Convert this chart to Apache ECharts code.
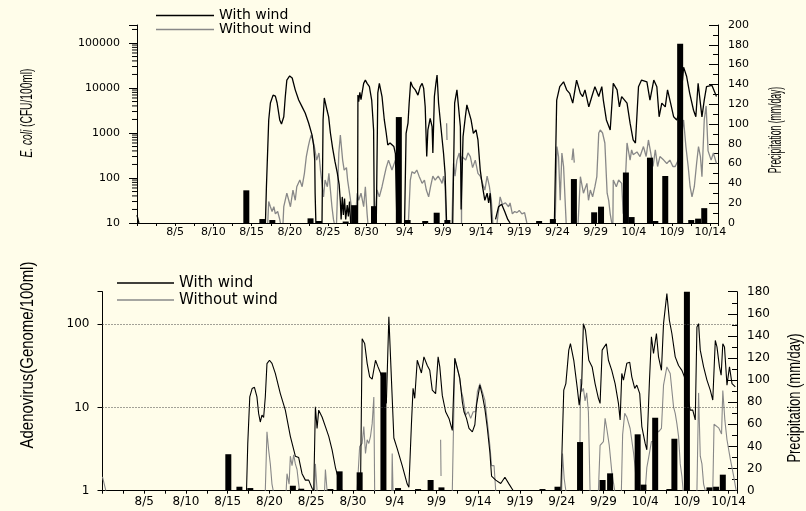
<!DOCTYPE html>
<html><head><meta charset="utf-8">
<script src="https://cdn.jsdelivr.net/npm/echarts@6/dist/echarts.min.js"></script>
<style>html,body{margin:0;padding:0;background:#fffdea;}#c{width:806px;height:511px;}</style>
</head><body><div id="c"></div>
<script>
// x values are days counted from 7/31 (day 0)
const dateLabels = ['8/5','8/10','8/15','8/20','8/25','8/30','9/4','9/9','9/14','9/19','9/24','9/29','10/4','10/9','10/14'];
const ecoliTickLabels = ['10','100','1000','10000','100000'];
const adenoTickLabels = ['1','10','100'];
const logMinorMultipliers = [2,3,4,5,6,7,8,9];
const seriesNames = ['With wind','Without wind'];

const precipTop = [[14.3,33],[16.4,4],[17.7,3],[22.7,4.7],[23.8,2],[27.3,1.5],[28.4,18],[31.0,17],[34.25,107],[35.4,3],[37.7,2],[39.2,10.4],[40.6,3],[52.6,2],[54.4,4],[57.15,44.4],[59.8,10.8],[60.7,16.5],[63.95,51],[64.7,6],[67.1,66],[67.8,2],[69.1,47.5],[71.05,181],[72.5,3],[73.4,4.4],[74.2,15]];
const precipBottom = [[15.07,33],[16.4,3.6],[17.7,2.4],[22.8,4.5],[23.8,1.8],[27.3,1.5],[28.4,17.5],[30.8,16.6],[33.65,107],[35.4,2.4],[37.8,1.5],[39.3,9.7],[40.6,3],[52.7,1.5],[54.5,3.6],[57.2,44],[59.9,9.7],[60.8,15.7],[64.1,51],[64.8,5.5],[66.2,66],[67.9,1.5],[68.5,47],[70.0,182],[72.7,3],[73.5,3.6],[74.3,14.5]];

const ecoliWithWind = [[0,15],[0.25,10],null,
[16.8,10],[16.93,64],[17.23,1950],[17.45,4640],[17.8,6950],[18.1,6600],[18.33,4640],[18.67,1950],[18.9,1590],[19.2,2290],[19.4,6460],[19.6,15000],[19.97,18500],[20.3,16700],[20.7,9100],[21.15,5400],[21.6,3800],[22.0,2780],[22.45,1670],[22.9,900],[23.1,540],[23.25,250],[23.3,46],[23.4,10],null,
[24.2,10],[24.34,1950],[24.5,6000],[24.64,6600],[24.86,3200],[25.07,2290],[25.3,1000],[25.6,450],[25.9,230],[26.2,130],[26.45,70],[26.6,30],[26.7,12],[26.85,38],[27.0,15],[27.15,35],[27.3,12],[27.5,25],[27.65,14],[27.8,30],[27.95,10],null,
[28.85,10],[28.9,6950],[29.0,5000],[29.15,8000],[29.3,5500],[29.4,7000],[29.65,12700],[29.87,15000],[30.1,12700],[30.4,10700],[30.7,5400],[30.95,1170],[31.05,10],null,
[31.3,10],[31.5,7800],[31.7,12700],[32.05,6460],[32.35,1950],[32.6,1000],[32.8,540],[33.1,600],[33.6,500],[33.8,350],[34.0,10],null,
[35.0,10],[35.2,980],[35.45,1650],[35.6,4570],[35.8,13700],[36.05,10700],[36.4,9100],[36.75,6950],[37.05,10700],[37.3,12700],[37.5,9800],[37.7,3800],[37.9,300],[38.05,1170],[38.35,2100],[38.6,1380],[38.7,360],[38.9,6460],[39.1,12700],[39.25,19400],[39.45,4570],[39.75,1380],[40.1,350],[40.3,127],[40.5,10],null,
[41.3,10],[41.55,4600],[41.85,9100],[42.05,8300],[42.3,1380],[42.4,20],[42.65,830],[42.95,2290],[43.15,4200],[43.4,4570],[43.7,1950],[44.0,980],[44.35,1170],[44.6,700],[44.9,150],[45.2,64],[45.5,32],[45.8,46],[46.0,28],[46.2,46],[46.4,10],null,
[46.9,12],[47.3,23],[47.7,26],[48.1,18],[48.5,12],[48.8,10],null,
[54.6,10],[54.9,5400],[55.3,10700],[55.8,13700],[56.2,9100],[56.6,7600],[57.0,4600],[57.5,15000],[58.0,7600],[58.3,6460],[58.6,9100],[59.1,3800],[59.5,6460],[59.9,10700],[60.4,6460],[60.8,10700],[61.0,5400],[61.4,1950],[61.9,1170],[62.3,12700],[62.8,9100],[63.1,3800],[63.4,6460],[64.1,4600],[64.5,1650],[64.9,700],[65.2,600],[65.6,10700],[66.0,15000],[66.7,13700],[67.1,5400],[67.6,15000],[68.0,10700],[68.3,2290],[68.65,4600],[69.1,3800],[69.4,9100],[69.8,4600],[70.2,2290],[70.6,1950],[71.0,3000],[71.5,29000],[71.9,18000],[72.3,7600],[72.8,3200],[73.1,2290],[73.4,12700],[73.9,2290],[74.2,5400],[74.5,10700],[75.2,11500],[75.8,6460]];

const ecoliWithoutWind = [[17.1,10],[17.23,30],[17.45,23],[17.67,18],[17.9,23],[18.1,16],[18.4,18],[18.67,12],[18.76,10],null,
[19.1,10],[19.2,23],[19.6,46],[19.85,32],[20.07,23],[20.4,54],[20.7,32],[20.9,64],[21.3,90],[21.6,64],[21.9,127],[22.15,300],[22.4,500],[22.6,700],[22.8,900],[23.0,700],[23.2,500],[23.5,250],[23.8,360],[24.0,150],[24.4,38],[24.6,90],[24.9,64],[25.1,127],[25.3,54],[25.5,23],[25.7,12],[25.8,10],null,
[26.1,10],[26.4,360],[26.6,900],[26.9,250],[27.1,150],[27.4,170],[27.55,90],[27.8,46],[28.05,23],[28.25,12],[28.3,10],null,
[28.55,10],[28.8,46],[29.0,32],[29.3,46],[29.65,23],[29.87,64],[30.1,16],[30.2,10],null,
[31.1,10],[31.4,54],[31.7,38],[32.05,64],[32.35,110],[32.6,170],[32.9,250],[33.35,150],[33.8,250],[34.0,200],[34.2,10],null,
[35.5,10],[35.75,90],[35.97,138],[36.3,127],[36.6,150],[36.9,110],[37.3,76],[37.6,90],[37.85,54],[38.15,38],[38.4,64],[38.7,110],[39.0,90],[39.4,110],[39.7,90],[39.9,76],[40.1,110],[40.3,64],[40.45,10],null,
[40.5,1650],[40.55,700],null,
[41.2,10],[41.4,210],[41.6,110],[41.85,250],[42.15,360],[42.4,170],[42.45,10],[42.5,300],[42.7,300],[43.0,250],[43.3,360],[43.6,300],[43.9,170],[44.25,250],[44.6,127],[44.9,110],[45.2,76],[45.5,54],[45.8,110],[46.1,64],[46.35,32],[46.55,10],null,
[47.1,10],[47.5,38],[47.8,26],[48.2,28],[48.6,23],[48.8,28],[49.1,16],[49.4,18],[49.7,17],[50.0,19],[50.35,16],[50.7,17],[51.0,10],null,
[54.7,10],[54.93,500],[55.14,300],[55.36,32],[55.58,360],[55.8,180],[56.0,32],[56.14,10],null,
[56.9,250],[57.05,450],[57.2,220],null,
[57.7,10],[58.0,107],[58.4,46],[58.85,76],[59.06,32],[59.3,54],[59.6,38],[59.9,64],[60.15,107],[60.4,1000],[60.6,1170],[60.9,1000],[61.2,600],[61.5,46],[61.7,32],[61.9,16],[62.1,10],null,
[62.25,10],[62.3,90],[62.7,64],[63.0,90],[63.4,76],[63.6,16],[63.85,64],[64.1,600],[64.5,250],[64.7,420],[64.9,330],[65.4,380],[65.8,300],[66.25,500],[66.6,300],[66.9,700],[67.2,360],[67.5,180],[67.8,420],[68.1,180],[68.4,300],[68.9,250],[69.3,210],[69.7,250],[70.1,180],[70.4,180],[70.8,250],[71.5,1950],[71.8,500],[72.1,180],[72.35,64],[72.6,38],[72.9,64],[73.2,210],[73.45,500],[73.7,300],[73.9,107],[74.2,1950],[74.45,4000],[74.7,400],[75.1,250],[75.4,360],[75.8,210]];

const adenoWithWind = [[17.25,1],[17.4,3.7],[17.64,13.4],[17.92,16.9],[18.2,17.5],[18.5,13.4],[18.7,8.5],[18.9,6.7],[19.1,8.1],[19.3,7.6],[19.5,13.4],[19.7,33.7],[20.0,37],[20.3,34],[20.7,25.7],[21.3,14.7],[21.9,9.3],[22.5,4.5],[23.1,2.6],[23.5,2.5],[23.9,1.6],[24.3,1.34],[24.7,1.34],[25.1,1.07],[25.3,1],[25.5,10.2],[25.7,5.6],[25.9,9.3],[26.3,7.7],[26.7,5.9],[27.1,4.5],[27.5,3.1],[27.9,1.9],[28.3,1.34],[28.7,1],null,
[30.9,1],[31.1,67],[31.4,59],[31.7,34],[32.0,23.4],[32.3,22],[32.7,37],[33.0,30.8],[33.3,26],[33.7,19.4],[34.0,11.2],[34.3,123],[34.5,125],[34.9,4.3],[35.3,3.2],[35.9,2.0],[36.5,1.2],[36.7,1.1],[37.0,6.2],[37.2,17],[37.4,12.9],[37.7,37],[37.9,39],[38.2,26],[38.5,40.7],[38.9,32],[39.2,28],[39.5,16.2],[39.9,14.7],[40.2,40.7],[40.4,30.8],[40.7,14],[41.1,8.9],[41.5,7.4],[41.9,5.3],[42.2,39],[42.5,29.5],[42.8,22.4],[43.1,11.7],[43.3,8.9],[43.6,7.4],[43.9,5.6],[44.3,5.1],[44.6,6.2],[44.8,10.7],[45.2,18.6],[45.5,14],[45.8,9.7],[46.1,5.6],[46.4,2.9],[46.6,1.5],[47.1,1.34],[47.7,1.22],[48.2,1.45],[48.7,1.2],[49.2,1.0],null,
[54.9,1],[55.25,16.2],[55.5,19.4],[55.85,49],[56.05,58.5],[56.45,37],[56.85,17.7],[57.1,10.7],[57.4,19.4],[57.6,102],[57.85,85],[58.25,37],[58.65,30.8],[59.0,19.4],[59.4,12.9],[59.6,11.2],[59.85,49],[60.1,53.6],[60.35,58.5],[60.6,37],[61.0,28],[61.4,19.4],[61.8,11.2],[62.0,7.1],[62.2,25.7],[62.4,21.4],[62.8,34],[63.15,35],[63.4,23.4],[63.75,17],[64.0,18.6],[64.35,14.7],[64.6,5.9],[65.0,3.7],[65.2,3.1],[65.5,19.4],[65.75,71],[66.0,44.6],[66.35,77.6],[66.6,40.7],[66.95,28],[67.2,102],[67.6,234],[67.9,112],[68.2,77.6],[68.6,40.7],[69.0,32],[69.4,28],[69.7,23.4],[69.95,16.2],[70.4,9.3],[70.7,9.3],[71.0,7.1],[71.2,93],[71.4,102],[71.6,49],[72.0,30.8],[72.4,21.4],[72.8,16.2],[73.1,12.3],[73.4,64],[73.6,53.6],[73.9,30.8],[74.1,24.5],[74.3,58.5],[74.5,53.6],[74.8,18.6],[75.1,30.8],[75.4,19.4],[75.8,17.7]];

const adenoWithoutWind = [[0,1.47],[0.4,1],null,
[19.5,1],[19.7,5.1],[19.9,3.1],[20.1,2.1],[20.3,1.2],[20.45,1],null,
[22.0,1],[22.1,1.6],[22.35,1.2],[22.5,2.6],[22.7,2],[22.9,2.7],[23.1,2.1],[23.3,1.8],[23.5,1.2],[23.6,1],null,
[25.4,1],[25.5,2.1],[25.7,1],null,
[26.6,1],[26.7,1.8],[26.9,1],null,
[30.5,1],[30.8,3.4],[31.1,3.7],[31.3,5.9],[31.5,2.8],[31.7,4.1],[31.9,3.7],[32.1,4.5],[32.3,6.4],[32.5,13.4],[32.6,1],null,
[34.65,1],[34.7,2.8],[34.8,1],null,
[40.5,4.1],[40.55,1.5],null,
[41.9,1],[42.2,39],[42.4,37],[42.7,24.5],[43.0,15.5],[43.2,12.9],[43.5,8.1],[43.8,8.9],[44.1,7.4],[44.4,8.9],[44.7,8.9],[44.9,15.5],[45.2,19.4],[45.5,15.5],[45.8,12.3],[46.1,6.7],[46.4,3.5],[46.6,2.0],[46.9,2.0],[47.1,1],null,
[55.0,1],[55.1,2.8],[55.3,1.4],[55.5,1],null,
[57.15,1],[57.25,22],[57.4,15.5],[57.6,17],[57.8,12],[58.0,15],[58.2,8.9],[58.4,1],null,
[59.4,1],[59.6,3.5],[60.0,3.9],[60.2,7.4],[60.4,5.6],[60.7,3.5],[61.0,1.7],[61.35,1],null,
[62.15,1],[62.3,4.7],[62.55,8.5],[62.8,7.7],[63.2,5.6],[63.6,2.9],[63.8,1.9],[64.0,1],null,
[65.0,1],[65.2,1.9],[65.4,2.45],[65.75,3.9],[66.0,3.9],[66.3,5.6],[66.6,5.1],[66.95,5.6],[67.2,18.6],[67.6,30.8],[68.0,25.7],[68.4,10.2],[68.6,8.5],[68.8,6.4],[69.0,4.5],[69.2,2.1],[69.4,1.5],[69.55,1],null,
[71.2,1],[71.4,15],[71.6,2.6],[71.8,2.1],[72.0,1.2],[72.2,1],null,
[73.1,1],[73.25,6.3],[73.8,5.7],[74.15,4.8],[74.3,16],[74.55,7],[74.8,4.1],[75.2,2.4],[75.6,1.5],[75.9,1]];

const toData = arr => arr.map(p => p === null ? ['-','-'] : p);

const H_FONT = "'DejaVu Sans', 'Liberation Sans', sans-serif";
const N_FONT = "'Liberation Sans', Arial, sans-serif";
const BLACK = '#000000', GRAY = '#888888';

function dateFmt(v){ const k = Math.round(v/5); return (Math.abs(v-k*5)<1e-6 && k>=1 && k<=dateLabels.length) ? dateLabels[k-1] : ''; }
function logFmt(list){ return v => { const s = String(Math.round(v)); return list.includes(s) ? s : ''; }; }

// minor log ticks of the E. coli axis (2..9 times each decade)
const ecoliMinorTicks = [];
ecoliTickLabels.forEach(s => logMinorMultipliers.forEach(m => { const v = m * Number(s); if (v <= 251189) ecoliMinorTicks.push([0, v]); }));

function xAxisCfg(grid, fs, margin){
  return {type:'value', gridIndex:grid, min:0, max:76, interval:2.5,
    axisLine:{show:true, onZero:false, lineStyle:{color:BLACK, width:1}},
    axisTick:{show:true, length:3, lineStyle:{color:BLACK}},
    axisLabel:{formatter:dateFmt, color:BLACK, fontSize:fs, fontFamily:H_FONT, margin:margin, hideOverlap:false},
    splitLine:{show:false}};
}

function vText(x, y, text, size, sx, rich){
  return {type:'text', x:x, y:y, rotation:Math.PI/2, scaleX:sx, scaleY:1, silent:true,
    style:{text:text, fill:BLACK, fontSize:size, fontFamily:N_FONT, align:'center', verticalAlign:'middle', textAlign:'center', textVerticalAlign:'middle', rich:rich}};
}

const chart = echarts.init(document.getElementById('c'), null, {renderer:'canvas'});
chart.setOption({
  animation:false,
  backgroundColor:'#fffdea',
  grid:[
    {left:137, top:25, width:581, height:198, outerBoundsMode:'none', containLabel:false},
    {left:102.5, top:291.7, width:634.5, height:199, outerBoundsMode:'none', containLabel:false}
  ],
  xAxis:[xAxisCfg(0,11,4), xAxisCfg(1,12,5)],
  yAxis:[
    {type:'log', logBase:10, gridIndex:0, position:'left', min:10, max:251189,
     axisLine:{show:true, lineStyle:{color:BLACK}}, axisTick:{show:true, length:8, lineStyle:{color:BLACK}},
     axisLabel:{formatter:logFmt(ecoliTickLabels), color:BLACK, fontSize:11, fontFamily:H_FONT, margin:17},
     splitLine:{show:false}},
    {type:'value', gridIndex:0, position:'right', min:0, max:200, interval:20,
     axisLine:{show:true, lineStyle:{color:BLACK}}, axisTick:{show:true, inside:true, length:9, lineStyle:{color:BLACK}},
     minorTick:{show:true, splitNumber:2, length:5, lineStyle:{color:BLACK}},
     axisLabel:{color:BLACK, fontSize:11, fontFamily:H_FONT, margin:10},
     splitLine:{show:false}, minorSplitLine:{show:false}},
    {type:'log', logBase:10, gridIndex:1, position:'left', min:1, max:247,
     axisLine:{show:true, lineStyle:{color:BLACK}}, axisTick:{show:true, length:5, lineStyle:{color:BLACK}},
     axisLabel:{formatter:logFmt(adenoTickLabels), color:BLACK, fontSize:12, fontFamily:H_FONT, margin:13},
     splitLine:{show:false}},
    {type:'value', gridIndex:1, position:'right', min:0, max:180, interval:20,
     axisLine:{show:true, lineStyle:{color:BLACK}}, axisTick:{show:true, inside:true, length:9, lineStyle:{color:BLACK}},
     minorTick:{show:true, splitNumber:2, length:5, lineStyle:{color:BLACK}},
     axisLabel:{color:BLACK, fontSize:12, fontFamily:H_FONT, margin:10},
     splitLine:{show:false}, minorSplitLine:{show:false}}
  ],
  legend:[
    {data:seriesNames, orient:'vertical', left:156, top:8.5, padding:0, itemWidth:58, itemHeight:1.5, itemGap:0, icon:'rect', selectedMode:false,
     textStyle:{color:BLACK, fontSize:14, fontFamily:H_FONT, lineHeight:13}},
    {data:seriesNames, orient:'vertical', left:117, top:274.5, padding:0, itemWidth:57, itemHeight:1.5, itemGap:0, icon:'rect', selectedMode:false,
     textStyle:{color:BLACK, fontSize:15, fontFamily:H_FONT, lineHeight:17}}
  ],
  graphic:[
    vText(27, 113, '{i|E. coli} (CFU/100ml)', 17, 0.6, {i:{fontStyle:'italic', fontSize:17, fontFamily:N_FONT, fill:BLACK}}),
    vText(776, 130, 'Precipitation (mm/day)', 18, 0.48),
    vText(28, 355, 'Adenovirus(Genome/100ml)', 18, 0.83),
    vText(795, 398, 'Precipitation (mm/day)', 19, 0.68)
  ],
  series:[
    {name:seriesNames[0], type:'line', xAxisIndex:0, yAxisIndex:0, data:toData(ecoliWithWind), symbol:'none', showSymbol:false, connectNulls:false, z:2,
     color:BLACK, lineStyle:{color:BLACK, width:1.3}},
    {name:seriesNames[1], type:'line', xAxisIndex:0, yAxisIndex:0, data:toData(ecoliWithoutWind), symbol:'none', showSymbol:false, connectNulls:false, z:1,
     color:GRAY, lineStyle:{color:GRAY, width:1.3}},
    {name:'Precipitation', type:'bar', xAxisIndex:0, yAxisIndex:1, data:precipTop, barWidth:6, z:3, itemStyle:{color:BLACK}},
    {name:'minor', type:'custom', xAxisIndex:0, yAxisIndex:0, data:ecoliMinorTicks, clip:false, silent:true, z:5,
     renderItem:function(params, api){
       const p = api.coord([api.value(0), api.value(1)]);
       return {type:'line', shape:{x1:p[0]-5, y1:p[1], x2:p[0], y2:p[1]}, style:{stroke:BLACK, lineWidth:1}};
     }},
    {name:seriesNames[0], type:'line', xAxisIndex:1, yAxisIndex:2, data:toData(adenoWithWind), symbol:'none', showSymbol:false, connectNulls:false, z:2,
     color:BLACK, lineStyle:{color:BLACK, width:1.1},
     markLine:{silent:true, symbol:['none','none'], label:{show:false}, lineStyle:{color:'#444', type:[1,2], width:1}, data:[{yAxis:10},{yAxis:100}]}},
    {name:seriesNames[1], type:'line', xAxisIndex:1, yAxisIndex:2, data:toData(adenoWithoutWind), symbol:'none', showSymbol:false, connectNulls:false, z:1,
     color:GRAY, lineStyle:{color:GRAY, width:1.1}},
    {name:'Precipitation', type:'bar', xAxisIndex:1, yAxisIndex:3, data:precipBottom, barWidth:6, z:3, itemStyle:{color:BLACK}}
  ]
});
</script></body></html>
